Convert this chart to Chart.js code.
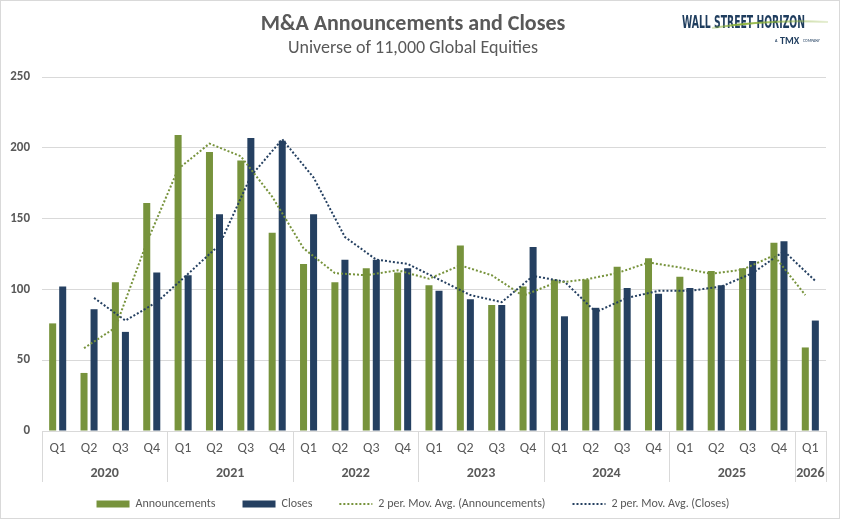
<!DOCTYPE html>
<html>
<head>
<meta charset="utf-8">
<title>M&amp;A Announcements and Closes</title>
<script src="https://cdn.jsdelivr.net/npm/chart.js@4.4.1/dist/chart.umd.min.js"></script>
<style>
  html, body { margin: 0; padding: 0; background: #fff; }
  #wrap { position: relative; width: 841px; height: 520px; }
</style>
</head>
<body>
<div id="wrap"><canvas id="maChart"></canvas></div>
<script>
// data ........................................................................
const quarters = ['Q1','Q2','Q3','Q4', 'Q1','Q2','Q3','Q4', 'Q1','Q2','Q3','Q4',
                  'Q1','Q2','Q3','Q4', 'Q1','Q2','Q3','Q4', 'Q1','Q2','Q3','Q4', 'Q1'];
const years = ['2020','2021','2022','2023','2024','2025','2026'];
const yearQuarters = [4, 4, 4, 4, 4, 4, 1];
const announcements = [76, 41, 105, 161, 209, 197, 191, 140, 118, 105, 115, 112,
                       103, 131, 89, 102, 107, 107, 116, 122, 109, 113, 115, 133, 59];
const closes = [102, 86, 70, 112, 110, 153, 207, 205, 153, 121, 121, 115,
                99, 93, 89, 130, 81, 87, 101, 97, 101, 103, 120, 134, 78];
const annMovAvg = [null, 58.5, 73, 133, 185, 203, 194, 165.5, 129, 111.5, 110, 113.5,
                   107.5, 117, 110, 95.5, 104.5, 107, 111.5, 119, 115.5, 111, 114, 124, 96];
const closesMovAvg = [null, 94, 78, 91, 111, 131.5, 180, 206, 179, 137, 121, 118,
                      107, 96, 91, 109.5, 105.5, 84, 94, 99, 99, 102, 111.5, 127, 106];
const yMax = 250;
const yStep = 50;

const FONT = "Carlito, Lato, 'Open Sans', sans-serif";
const GREEN = '#77933C';
const NAVY = '#254061';
const GREY = '#595959';
const RULE = '#d9d9d9';

Chart.defaults.font.family = FONT;
Chart.defaults.color = GREY;

// outer frame + white background ..............................................
const framePlugin = {
  id: 'frame',
  beforeDraw(chart) {
    const ctx = chart.ctx;
    ctx.save();
    ctx.fillStyle = '#fff';
    ctx.fillRect(0, 0, chart.width, chart.height);
    ctx.strokeStyle = RULE;
    ctx.lineWidth = 1;
    ctx.strokeRect(0.5, 0.5, chart.width - 2, chart.height - 2);
    ctx.restore();
  }
};

// year row under the quarter labels ...........................................
const yearRowPlugin = {
  id: 'yearRow',
  afterDraw(chart) {
    const x = chart.scales.x, ctx = chart.ctx;
    const half = (x.getPixelForValue(1) - x.getPixelForValue(0)) / 2;
    const top = chart.chartArea.bottom;
    ctx.save();
    ctx.strokeStyle = RULE;
    ctx.lineWidth = 1;
    ctx.fillStyle = GREY;
    ctx.font = 'bold 14px ' + FONT;
    ctx.textAlign = 'center';
    ctx.textBaseline = 'middle';
    let start = 0, right = 0;
    years.forEach((yr, i) => {
      const n = yearQuarters[i];
      const left = x.getPixelForValue(start) - half;
      right = x.getPixelForValue(start + n - 1) + half;
      ctx.beginPath();
      ctx.moveTo(Math.round(left) + 0.5, top);
      ctx.lineTo(Math.round(left) + 0.5, top + 51);
      ctx.stroke();
      ctx.fillText(yr, (left + right) / 2, top + 42);
      start += n;
    });
    ctx.beginPath();
    ctx.moveTo(Math.round(right) + 0.5, top);
    ctx.lineTo(Math.round(right) + 0.5, top + 51);
    ctx.stroke();
    ctx.restore();
  }
};

// moving averages sit over their own bar, not the category centre ..............
const shiftPlugin = {
  id: 'shiftMA',
  beforeDatasetDraw(chart, args) {
    const ds = chart.data.datasets[args.index];
    if (ds.type !== 'line') return;
    const bar = chart.getDatasetMeta(ds.barIndex).data[0];
    const dx = bar.x - chart.scales.x.getPixelForValue(0);
    chart.ctx.save();
    chart.ctx.translate(dx, 0);
  },
  afterDatasetDraw(chart, args) {
    if (chart.data.datasets[args.index].type === 'line') chart.ctx.restore();
  }
};

// logo ........................................................................
const logoPlugin = {
  id: 'logo',
  afterDraw(chart) {
    const ctx = chart.ctx;
    ctx.save();
    ctx.fillStyle = '#1f3d5e';
    ctx.font = "bold 17px 'Liberation Sans Narrow', 'DejaVu Sans Condensed', " + FONT;
    ctx.textBaseline = 'alphabetic';
    const txt = 'WALL STREET HORIZON';
    const w = ctx.measureText(txt).width;
    ctx.translate(682, 28);
    ctx.scale(123 / w, 1);
    ctx.fillText(txt, 0, 0);
    ctx.restore();

    ctx.save();
    const grad = ctx.createLinearGradient(700, 0, 830, 0);
    grad.addColorStop(0, 'rgba(141,179,58,0)');
    grad.addColorStop(0.3, 'rgba(141,179,58,1)');
    grad.addColorStop(1, 'rgba(141,179,58,0.2)');
    ctx.strokeStyle = grad;
    ctx.lineWidth = 2;
    ctx.beginPath();
    ctx.moveTo(712, 28);
    ctx.quadraticCurveTo(770, 19, 828, 22);
    ctx.stroke();

    ctx.fillStyle = '#1f3d5e';
    ctx.textBaseline = 'middle';
    ctx.font = 'bold 4px ' + FONT;
    ctx.fillText('A', 775, 41);
    ctx.font = 'bold 10px ' + FONT;
    ctx.fillText('TMX', 780, 41);
    ctx.font = '4px ' + FONT;
    ctx.fillText('COMPANY', 803, 41);
    ctx.restore();
  }
};

// chart .......................................................................
const ctx = document.getElementById('maChart');

new Chart(ctx, {
  type: 'bar',
  data: {
    labels: quarters,
    datasets: [
      { label: 'Announcements', data: announcements, backgroundColor: GREEN, order: 1 },
      { label: 'Closes', data: closes, backgroundColor: NAVY, order: 1 },
      { type: 'line', label: '2 per. Mov. Avg. (Announcements)', data: annMovAvg, barIndex: 0,
        borderColor: GREEN, backgroundColor: GREEN, borderWidth: 2, borderDash: [2, 2],
        pointRadius: 0, tension: 0, fill: false, order: 0 },
      { type: 'line', label: '2 per. Mov. Avg. (Closes)', data: closesMovAvg, barIndex: 1,
        borderColor: NAVY, backgroundColor: NAVY, borderWidth: 2, borderDash: [2, 2],
        pointRadius: 0, tension: 0, fill: false, order: 0 }
    ]
  },
  plugins: [framePlugin, shiftPlugin, yearRowPlugin, logoPlugin],
  options: {
    responsive: true,
    maintainAspectRatio: false,
    animation: false,
    datasets: {
      bar: { categoryPercentage: 0.64, barPercentage: 0.7 }
    },
    layout: { padding: { left: 0, right: 15, top: 0, bottom: 0 } },
    plugins: {
      title: {
        display: true,
        text: 'M&A Announcements and Closes',
        color: GREY,
        font: { size: 22, weight: 'bold' },
        padding: { top: 11, bottom: 0 }
      },
      subtitle: {
        display: true,
        text: 'Universe of 11,000 Global Equities',
        color: GREY,
        font: { size: 18, weight: 'normal' },
        padding: { top: 0, bottom: 18 }
      },
      legend: {
        position: 'bottom',
        labels: {
          usePointStyle: true,
          pointStyleWidth: 33,
          boxHeight: 7,
          padding: 27,
          color: GREY,
          font: { size: 12 },
          generateLabels(chart) {
            const items = Chart.defaults.plugins.legend.labels.generateLabels(chart);
            items.sort((a, b) => a.datasetIndex - b.datasetIndex);
            items.forEach(it => {
              const ds = chart.data.datasets[it.datasetIndex];
              if (ds.type === 'line') {
                it.pointStyle = 'line';
                it.lineDash = ds.borderDash;
                it.lineWidth = ds.borderWidth;
                it.strokeStyle = ds.borderColor;
              } else {
                it.pointStyle = 'rect';
                it.lineWidth = 0;
              }
            });
            return items;
          }
        }
      },
      tooltip: { enabled: false }
    },
    scales: {
      x: {
        grid: { display: false, drawTicks: false },
        border: { display: true, color: RULE },
        ticks: { color: GREY, font: { size: 14 }, padding: 9, maxRotation: 0, autoSkip: false },
        afterFit(scale) { scale.height = 40; }
      },
      y: {
        min: 0,
        max: yMax,
        grid: { color: RULE, drawTicks: false },
        border: { display: false },
        ticks: { stepSize: yStep, color: GREY, font: { size: 13, weight: 'bold' }, padding: 12 },
        afterFit(scale) { scale.width = 42; }
      }
    }
  }
});
</script>
</body>
</html>
